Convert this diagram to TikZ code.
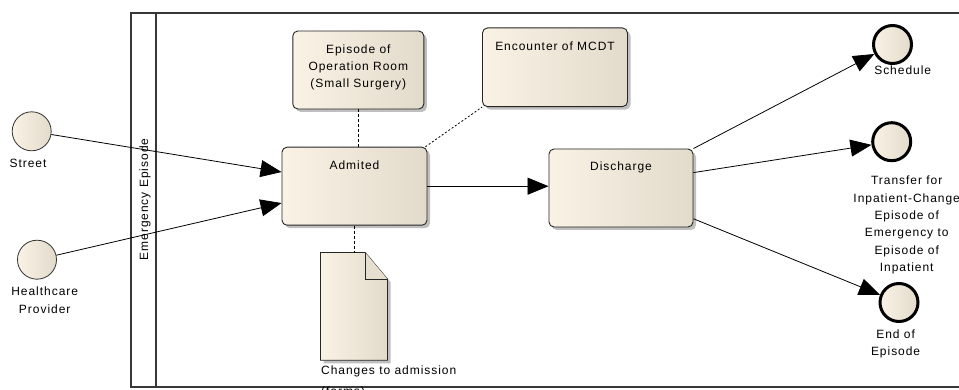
\documentclass[tikz,border=0pt]{standalone}
\usepackage{fontspec}
\setmainfont[LetterSpace=8]{Liberation Sans}
\usetikzlibrary{arrows.meta,shadows,calc}

\definecolor{creamL}{RGB}{250,243,229}
\definecolor{creamR}{RGB}{226,218,203}
\definecolor{poolline}{RGB}{55,55,55}

\tikzset{
  txt/.style={font=\fontsize{12}{17.3}\selectfont, align=center, inner sep=0pt},
  boxshade/.style={left color=creamL, middle color=creamL, right color=creamR},
  softshadow/.style={drop shadow={shadow xshift=3pt, shadow yshift=-3pt, fill=black, opacity=.25}},
  task/.style={draw=black!85, line width=0.9pt, rounded corners=5pt, boxshade, softshadow,
               minimum width=145pt, minimum height=78pt, inner sep=0pt},
  startev/.style={circle, draw=black!80, line width=0.8pt, minimum size=39pt, inner sep=0pt,
                  left color=creamL, right color=creamR},
  endev/.style={circle, draw=black, line width=3pt, minimum size=38pt, inner sep=0pt,
                left color=creamL, right color=creamR},
  arr/.style={line width=0.8pt, -{Triangle[length=21pt, width=17pt]}},
  assoc/.style={line width=0.8pt, dash pattern=on 3pt off 2pt},
  assocdot/.style={line width=0.8pt, dash pattern=on 2pt off 2pt},
}

\begin{document}
\begin{tikzpicture}[x=1pt, y=-1pt]
  \useasboundingbox (0,0) rectangle (959,390);
  \fill[white] (0,0) rectangle (959,390);

  % pool with its single lane
  \node[draw=poolline, line width=1.6pt, anchor=north west, minimum width=860pt,
        minimum height=374pt, inner sep=0pt] (pool) at (130,12) {};
  \draw[poolline, line width=1.6pt] ($(pool.north west)+(26,0)$) -- ($(pool.south west)+(26,0)$);
  \node[txt, rotate=90] (lane) at (145,199.5) {Emergency Episode};

  % tasks
  \node[task, minimum width=131pt] (oproom) at (358.3,70) {};
  \node[txt] (oproomlbl) at (358.3,67.5) {Episode of\\Operation Room\\(Small Surgery)};
  \node[task] (adm) at (354.5,186.2) {};
  \node[txt] (admlbl) at (354.5,165.7) {Admited};
  \node[task, minimum height=78.7pt] (mcdt) at (555,67.3) {};
  \node[txt] (mcdtlbl) at (555,46.7) {Encounter of MCDT};
  \node[task, minimum width=144pt] (dis) at (621,188) {};
  \node[txt] (dislbl) at (621,167.7) {Discharge};

  % data object
  \node[minimum width=66.6pt, minimum height=107.3pt, inner sep=0pt] (doc) at (354,306.4) {};
  \draw[draw=black!85, line width=0.9pt, boxshade, softshadow]
    (doc.north west) -- ($(doc.north east)+(-22.3,0)$) -- ($(doc.north east)+(0,26.6)$)
    -- (doc.south east) -- (doc.south west) -- cycle;
  \draw[draw=black!85, line width=0.9pt, fill=creamR!85!creamL]
    ($(doc.north east)+(-22.3,0)$) -- ($(doc.north east)+(-22.3,26.6)$) -- ($(doc.north east)+(0,26.6)$);
  \node[txt, font=\fontsize{12}{21}\selectfont, align=left, anchor=north west] (doclbl)
    at (321,365.8) {Changes to admission\\(forms)};

  % start events
  \node[startev] (street) at (31.7,131.3) {};
  \node[txt] (streetlbl) at (28,163) {Street};
  \node[startev] (hp) at (37,259.7) {};
  \node[txt] (hplbl) at (44.7,300.3) {Healthcare\\Provider};

  % end events
  \node[endev] (sched) at (892.5,44.5) {};
  \node[txt] (schedlbl) at (902.7,70) {Schedule};
  \node[endev] (trans) at (891.7,141.7) {};
  \node[txt] (translbl) at (906.7,225) {Transfer for\\Inpatient-Change\\Episode of\\Emergency to\\Episode of\\Inpatient};
  \node[endev] (endep) at (899,302.5) {};
  \node[txt] (endeplbl) at (895.6,343.8) {End of\\Episode};

  % sequence flows
  \draw[arr] (street) -- (adm.169.5);
  \draw[arr] (hp) -- (adm.193);
  \draw[arr] (adm.east) -- (dis.west |- adm.east);
  \draw[arr] (dis.north east) -- (sched);
  \draw[arr] (dis.12) -- (trans);
  \draw[arr] (dis.-23) -- (endep);

  % associations
  \draw[assoc] (oproom.south) -- (oproom.south |- adm.north);
  \draw[assocdot] ($(adm.north east)+(-2,0)$) -- (mcdt.south west);
  \draw[assoc] (adm.south) -- (adm.south |- doc.north);
\end{tikzpicture}
\end{document}
